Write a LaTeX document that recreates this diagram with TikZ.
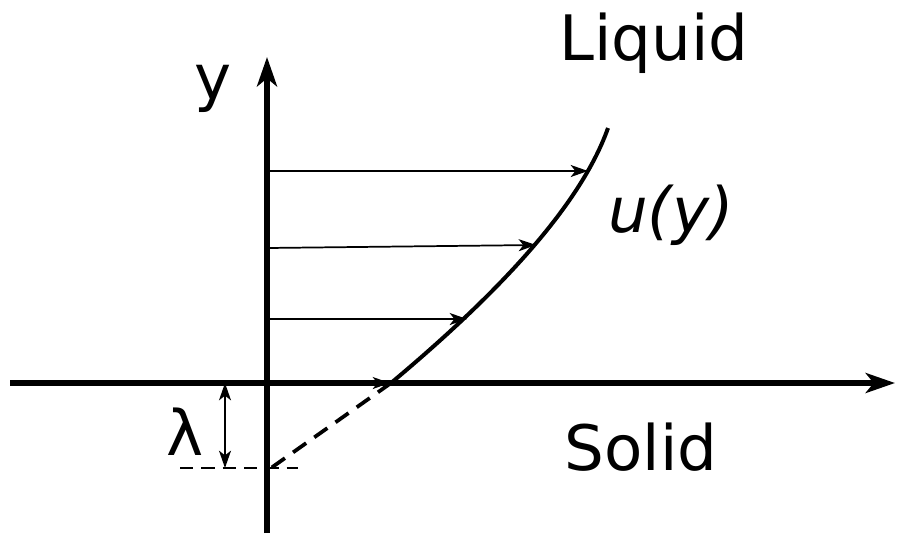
\documentclass[tikz,border=0pt]{standalone}
\usepackage{fontspec}
\setmainfont{DejaVu Sans}
\usetikzlibrary{arrows.meta}
\begin{document}
\begin{tikzpicture}[x=0.75pt,y=-0.75pt,
  axisline/.style={line width=#1, -{Stealth[length=22pt,width=15pt,inset=6pt]}},
  vel/.style={line width=1.3pt, -{Stealth[length=13pt,width=9pt,inset=3.5pt]}},
  dblvel/.style={line width=1.3pt, {Stealth[length=13pt,width=9pt,inset=3.5pt]}-{Stealth[length=13pt,width=9pt,inset=3.5pt]}},
  lab/.style={font=\fontsize{47}{56}\selectfont, anchor=base, inner sep=0pt},
  dsh/.style={dash pattern=on 12pt off 7.5pt, line width=2.8pt}]
\useasboundingbox (0,0) rectangle (905,533);
% coordinates
\coordinate (ybot) at (267,533);
\coordinate (ytop) at (267,57);
\coordinate (xl) at (10,383);
\coordinate (xr) at (895,383);
\coordinate (P0) at (391,383);
\coordinate (P4) at (608,128);
\coordinate (S) at (271,468);
\coordinate (dl) at (180,468);
\coordinate (dr) at (298,468);
\coordinate (la) at (225,383);
\coordinate (lb) at (225,468);
\coordinate (a1s) at (267,171);
\coordinate (a1e) at (588,171);
\coordinate (a2s) at (267,248);
\coordinate (a2e) at (536,245);
\coordinate (a3s) at (267,319);
\coordinate (a3e) at (467,319);
\coordinate (a4s) at (267,383);
\coordinate (a4e) at (390,383);
% axes
\draw[axisline=5.2pt] (ybot) -- (ytop);
\draw[axisline=3.8pt] (xl) -- (xr);
% velocity profile
\draw[line width=3pt] (P0) .. controls (483,306) and (578,213) .. (P4);
\draw[dsh] (P0) -- (S);
\draw[dash pattern=on 10pt off 6pt, line width=1pt] (dl) -- (dr);
% velocity arrows
\draw[vel] (a1s) -- (a1e);
\draw[vel] (a2s) -- (a2e);
\draw[vel] (a3s) -- (a3e);
\draw[vel] (a4s) -- (a4e);
% slip length
\draw[dblvel] (la) -- (lb);
% labels
\node[lab] (liquid) at (654,60) {Liquid};
\node[lab] (u) at (671,232) {\itshape u(y)};
\node[lab] (solid) at (641,470) {Solid};
\node[lab] (ylab) at (213,99) {y};
\node[lab] (lam) at (185,455) {λ};
\end{tikzpicture}
\end{document}
